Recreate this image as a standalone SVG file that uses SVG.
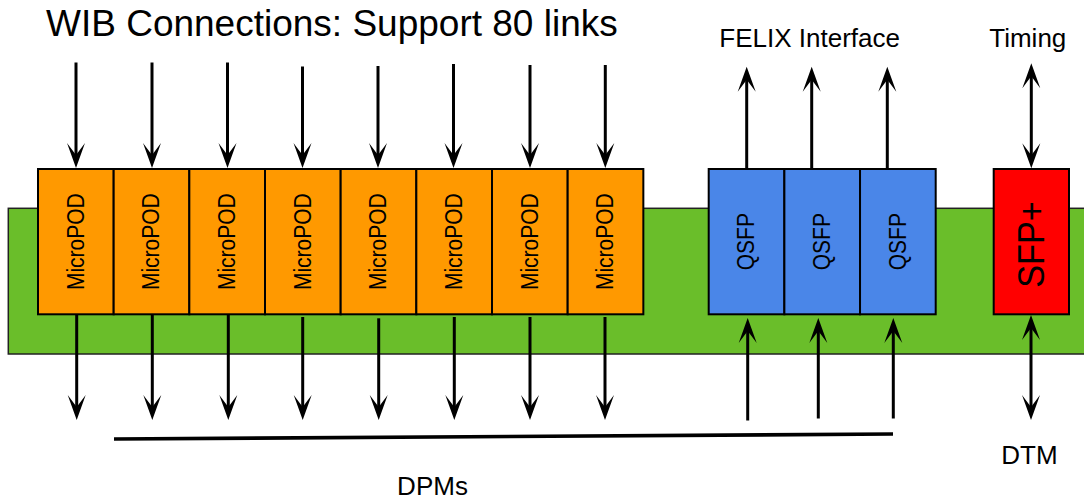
<svg xmlns="http://www.w3.org/2000/svg" width="1084" height="499" viewBox="0 0 1084 499">
  <style>
    .lbl { font-family: "Liberation Sans", Arial, sans-serif; fill: #000; }
    .pod { fill: #FF9900; stroke: #000; stroke-width: 2; }
    .qsfp { fill: #4A86E8; stroke: #000; stroke-width: 2; }
    .sfp { fill: #FF0000; stroke: #000; stroke-width: 2; }
    .board { fill: #6ABE2A; stroke: #222; stroke-width: 1.5; }
    .arr { stroke: #000; stroke-width: 3; fill: none; marker-end: url(#ah); }
    .dbl { stroke: #000; stroke-width: 3; fill: none; marker-start: url(#ah); marker-end: url(#ah); }
    .rot { font-family: "Liberation Sans", Arial, sans-serif; fill: #000; text-anchor: middle; }
  </style>
  <defs>
    <marker id="ah" viewBox="0 -10 26 20" markerWidth="26" markerHeight="20" refX="15" refY="0" markerUnits="userSpaceOnUse" orient="auto-start-reverse">
      <path d="M25,0 L0,-9 L12,0 L0,9 Z" fill="#000"/>
    </marker>
  </defs>
  <rect width="1084" height="499" fill="#fff"/>

  <g id="board">
    <rect class="board" x="8.3" y="208.3" width="1090" height="145.7"/>
  </g>

  <g id="title">
    <text class="lbl" x="46" y="36" font-size="37">WIB Connections: Support 80 links</text>
  </g>
  <g id="felix-label">
    <text class="lbl" x="809.7" y="46.7" font-size="26" text-anchor="middle">FELIX Interface</text>
  </g>
  <g id="timing-label">
    <text class="lbl" x="1027.8" y="46.7" font-size="26" text-anchor="middle">Timing</text>
  </g>
  <g id="dtm-label">
    <text class="lbl" x="1029.5" y="464" font-size="26" text-anchor="middle">DTM</text>
  </g>
  <g id="dpms-label">
    <text class="lbl" x="432.5" y="495" font-size="26" text-anchor="middle">DPMs</text>
  </g>

  <g id="micropod-1"><rect class="pod" x="38" y="169" width="75.67" height="145.3"/><text class="rot" font-size="21" transform="translate(76.1,241.7) rotate(-90) scale(1,1.1)" y="6.8">MicroPOD</text></g>
  <g id="micropod-2"><rect class="pod" x="113.67" y="169" width="75.67" height="145.3"/><text class="rot" font-size="21" transform="translate(151.8,241.7) rotate(-90) scale(1,1.1)" y="6.8">MicroPOD</text></g>
  <g id="micropod-3"><rect class="pod" x="189.33" y="169" width="75.67" height="145.3"/><text class="rot" font-size="21" transform="translate(227.5,241.7) rotate(-90) scale(1,1.1)" y="6.8">MicroPOD</text></g>
  <g id="micropod-4"><rect class="pod" x="265" y="169" width="75.67" height="145.3"/><text class="rot" font-size="21" transform="translate(303.1,241.7) rotate(-90) scale(1,1.1)" y="6.8">MicroPOD</text></g>
  <g id="micropod-5"><rect class="pod" x="340.67" y="169" width="75.67" height="145.3"/><text class="rot" font-size="21" transform="translate(378.8,241.7) rotate(-90) scale(1,1.1)" y="6.8">MicroPOD</text></g>
  <g id="micropod-6"><rect class="pod" x="416.33" y="169" width="75.67" height="145.3"/><text class="rot" font-size="21" transform="translate(454.5,241.7) rotate(-90) scale(1,1.1)" y="6.8">MicroPOD</text></g>
  <g id="micropod-7"><rect class="pod" x="492" y="169" width="75.67" height="145.3"/><text class="rot" font-size="21" transform="translate(530.1,241.7) rotate(-90) scale(1,1.1)" y="6.8">MicroPOD</text></g>
  <g id="micropod-8"><rect class="pod" x="567.67" y="169" width="75.67" height="145.3"/><text class="rot" font-size="21" transform="translate(605.8,241.7) rotate(-90) scale(1,1.1)" y="6.8">MicroPOD</text></g>

  <g id="qsfp-1"><rect class="qsfp" x="708.7" y="169" width="75.67" height="145.3"/><text class="rot" font-size="21" transform="translate(747,241.7) rotate(-90) scale(1,1.1)" y="6.8">QSFP</text></g>
  <g id="qsfp-2"><rect class="qsfp" x="784.37" y="169" width="75.67" height="145.3"/><text class="rot" font-size="21" transform="translate(822.7,241.7) rotate(-90) scale(1,1.1)" y="6.8">QSFP</text></g>
  <g id="qsfp-3"><rect class="qsfp" x="860.03" y="169" width="75.67" height="145.3"/><text class="rot" font-size="21" transform="translate(898.4,241.7) rotate(-90) scale(1,1.1)" y="6.8">QSFP</text></g>

  <g id="sfp-plus"><rect class="sfp" x="993.7" y="169" width="75.3" height="145.3"/><text class="rot" font-size="34.3" transform="translate(1032,244.5) rotate(-90) scale(1,1.1)" y="11.2">SFP+</text></g>

  <g id="connectors">
    <!-- WIB inputs -->
    <line class="arr" x1="76" y1="62.5" x2="76" y2="158"/>
    <line class="arr" x1="152" y1="62.5" x2="152" y2="158"/>
    <line class="arr" x1="227.5" y1="62.5" x2="227.5" y2="158"/>
    <line class="arr" x1="302.5" y1="66.5" x2="302.5" y2="158"/>
    <line class="arr" x1="378" y1="66" x2="378" y2="158"/>
    <line class="arr" x1="453.5" y1="64" x2="453.5" y2="158"/>
    <line class="arr" x1="530" y1="65" x2="530" y2="158"/>
    <line class="arr" x1="605.3" y1="65" x2="605.3" y2="158"/>
    <!-- DPM outputs -->
    <line class="arr" x1="76.7" y1="314" x2="76.7" y2="410"/>
    <line class="arr" x1="152.3" y1="314" x2="152.3" y2="410"/>
    <line class="arr" x1="228.3" y1="314" x2="228.3" y2="410"/>
    <line class="arr" x1="302.7" y1="317" x2="302.7" y2="410"/>
    <line class="arr" x1="378.7" y1="318.3" x2="378.7" y2="410"/>
    <line class="arr" x1="454.3" y1="317" x2="454.3" y2="410"/>
    <line class="arr" x1="530" y1="317" x2="530" y2="410"/>
    <line class="arr" x1="605" y1="317" x2="605" y2="410"/>
    <!-- FELIX outputs -->
    <line class="arr" x1="746.7" y1="169" x2="746.7" y2="76.7"/>
    <line class="arr" x1="811.7" y1="169" x2="811.7" y2="76.7"/>
    <line class="arr" x1="887.3" y1="169" x2="887.3" y2="76.7"/>
    <!-- QSFP inputs from below -->
    <line class="arr" x1="747.7" y1="420.5" x2="747.7" y2="328"/>
    <line class="arr" x1="818.3" y1="418.5" x2="818.3" y2="328"/>
    <line class="arr" x1="893.3" y1="418.5" x2="893.3" y2="328"/>
    <!-- Timing / DTM -->
    <line class="dbl" x1="1031.3" y1="73.3" x2="1031.3" y2="158.3"/>
    <line class="dbl" x1="1031" y1="325" x2="1031" y2="410"/>
    <!-- DPMs bracket line -->
    <line x1="114" y1="439" x2="893" y2="434" stroke="#000" stroke-width="3.6"/>
  </g>
</svg>
